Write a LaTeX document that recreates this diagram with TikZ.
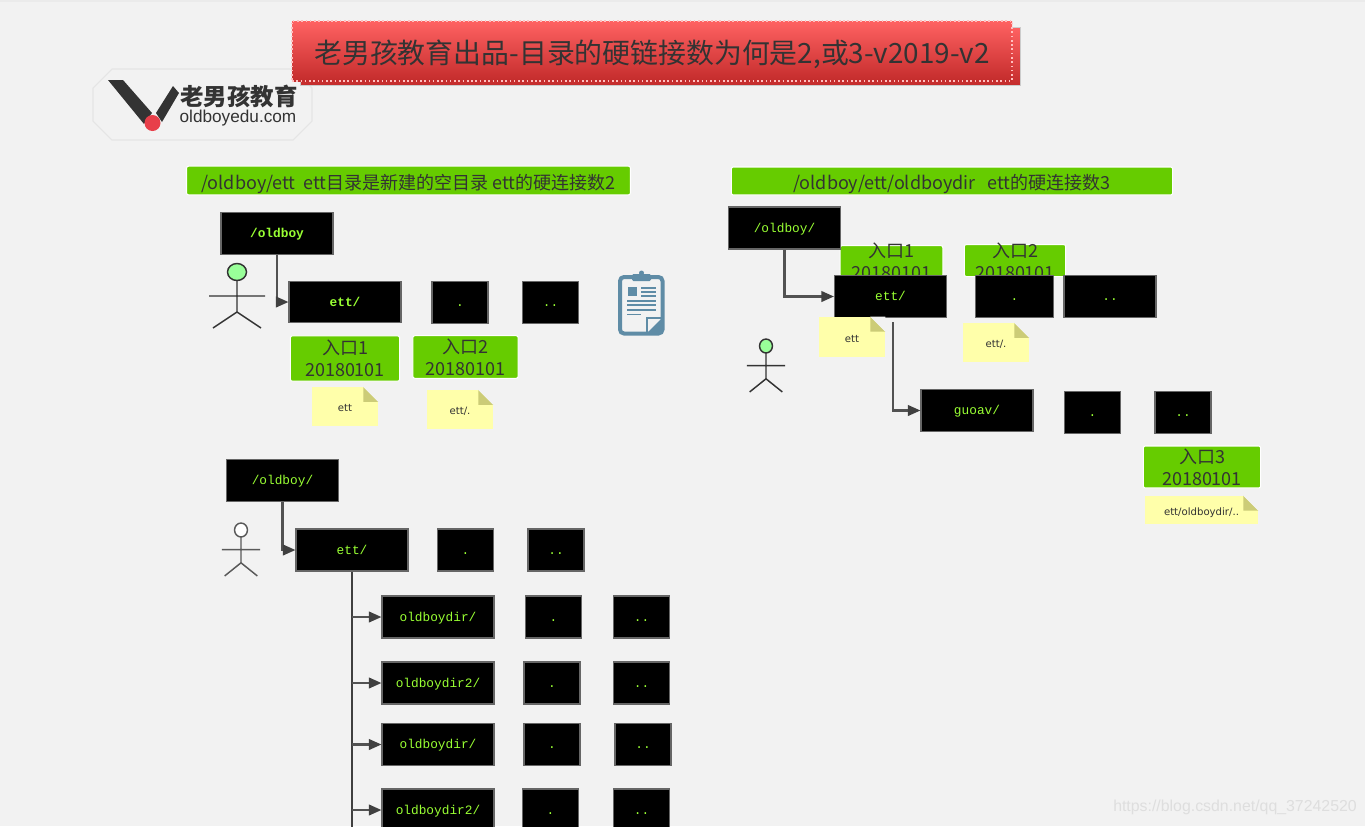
\documentclass[tikz,border=0pt]{standalone}
\usepackage{fontspec}
\setmainfont{Noto Sans CJK SC}
\setmonofont{Liberation Mono}
\newfontfamily\notefont{DejaVu Sans}
\newfontfamily\logofont{Liberation Sans}
\usetikzlibrary{arrows.meta,shadows,positioning}
\definecolor{pagebg}{HTML}{F2F2F2}
\definecolor{leafgreen}{HTML}{66CC00}
\definecolor{lime}{HTML}{99FF33}
\definecolor{inkgray}{HTML}{333333}
\definecolor{notefill}{HTML}{FFFFAA}
\definecolor{notefold}{HTML}{CCCC77}
\definecolor{clipblue}{HTML}{5F8CA6}
\definecolor{titletop}{HTML}{FF6262}
\definecolor{titlebot}{HTML}{C42C2C}
\definecolor{logored}{HTML}{E83F4A}
\tikzstyle{dirbox}=[rectangle,draw=black!60,fill=black,line width=0.8pt,inner sep=0pt,text=lime,text height=8pt,text depth=2pt,font=\ttfamily\fontsize{9.6}{11}\selectfont]
\tikzstyle{entrybox}=[rectangle,rounded corners=1.5pt,draw=white,fill=leafgreen,thick,inner sep=0pt,text=inkgray,align=center,font=\fontsize{13.5}{16.5}\selectfont]
\tikzstyle{headbox}=[rectangle,rounded corners=1.5pt,draw=white,fill=leafgreen,thick,inner sep=0pt,text=inkgray,text height=15pt,text depth=2pt,font=\fontsize{13.5}{16}\selectfont]
\tikzstyle{notebox}=[rectangle,fill=notefill,inner sep=0pt,text=inkgray,text height=8pt,text depth=0pt,font=\notefont\fontsize{7.6}{10}\selectfont]
\tikzstyle{link}=[draw=black!68,line width=1.6pt,-{Triangle[length=9.5pt,width=8pt,color=black!75]}]
\tikzstyle{figure}=[draw=black!80,line width=1.1pt]
\newcommand{\notefolded}[1]{%
  \fill[notefold] ([xshift=-15pt*0.75]#1.north east) -- ([yshift=-15pt*0.75]#1.north east) -- ([xshift=-15pt*0.75,yshift=-15pt*0.75]#1.north east) -- cycle;
  \fill[pagebg] ([xshift=-15pt*0.75]#1.north east) -- (#1.north east) -- ([yshift=-15pt*0.75]#1.north east) -- cycle;}
\newcommand{\stickman}[6]{% x, y, head fill, xscale, yscale, colour
  \begin{scope}[shift={(#1,#2)},xscale=#4,yscale=#5,figure,draw=#6]
    \draw[fill=#3] (0,0) ellipse (9.5 and 8.5);
    \draw (0,8.5) -- (0,40) (-28,24) -- (28,24) (-24,56) -- (0,40) -- (24,56);
  \end{scope}}
\begin{document}
\begin{tikzpicture}[x=0.75pt,y=-0.75pt,>=stealth]
    \useasboundingbox[fill=pagebg] (0,0) rectangle (1365,826);
    \fill[black!8] (0,0) rectangle (1365,1.5);

    % logo
    \draw[black!10,fill=pagebg,line width=0.8pt] (112,69) -- (293,69) -- (312,88) -- (312,121) -- (293,140) -- (112,140) -- (93,121) -- (93,88) -- cycle;
    \fill[inkgray] (108,80) -- (123,80) -- (152,113) -- (144,124) -- cycle;
    \fill[inkgray] (156,113) -- (173,86) -- (179,93) -- (162,122) -- cycle;
    \fill[logored] (152.5,123) circle (8);
    \node[inner sep=0pt,text=inkgray,font=\bfseries\fontsize{17.6}{18}\selectfont] (logocn) at (239,96) {老男孩教育};
    \node[inner sep=0pt,text=inkgray,font=\logofont\fontsize{12.9}{14}\selectfont] (logoen) at (238,118) {oldboyedu.com};

    % title
    \node[rectangle,top color=titletop,bottom color=titlebot,draw=black!20,minimum width=540pt,minimum height=43.5pt,inner sep=0pt] (titleback) at (660,56) {};
    \node[rectangle,top color=titletop,bottom color=titlebot,draw=white!75!red,dotted,line width=1.2pt,minimum width=540pt,minimum height=45pt,inner sep=0pt,text=inkgray,text height=21pt,text depth=2.3pt,font=\fontsize{20.9}{24}\selectfont] (title) at (652,51) {老男孩教育出品-目录的硬链接数为何是2,或3-v2019-v2};

    % headers
    \node[headbox,minimum width=333pt,minimum height=21.5pt] (headone) at (408.5,180.5) {/oldboy/ett\ \ ett目录是新建的空目录 ett的硬连接数2};
    \node[headbox,minimum width=331pt,minimum height=21pt] (headtwo) at (952,181) {/oldboy/ett/oldboydir\ \ \ ett的硬连接数3};

    % left upper
    \node[dirbox,minimum width=84pt,minimum height=31pt,font=\ttfamily\bfseries\fontsize{9.6}{11}\selectfont] (rootone) at (277,233.5) {/oldboy};
    \node[dirbox,minimum width=84pt,minimum height=31pt,font=\ttfamily\bfseries\fontsize{9.6}{11}\selectfont] (ettone) at (345,302) {ett/};
    \node[dirbox,minimum width=42pt,minimum height=31pt] (dotone) at (460,302.5) {.};
    \node[dirbox,minimum width=42pt,minimum height=31pt] (dotdotone) at (550.5,302.5) {..};
    \node[entrybox,minimum width=82pt,minimum height=34pt] (entryone) at (345,358.5) {入口1\\20180101};
    \node[entrybox,minimum width=79pt,minimum height=32pt] (entrytwo) at (465.5,357) {入口2\\20180101};
    \node[notebox,minimum width=49.5pt,minimum height=29pt] (noteone) at (345,406.5) {ett};
    \node[notebox,minimum width=49.5pt,minimum height=29pt] (notetwo) at (460,409.5) {ett/.};
    \notefolded{noteone}
    \notefolded{notetwo}
    \draw[link] (rootone.south) |- (ettone.west);
    \stickman{237}{272}{green!40!white}{1}{1}{black!80}

    % clipboard
    \draw[clipblue,line width=3pt,rounded corners=3pt] (620,277) rectangle (662.5,333.5);
    \fill[clipblue,rounded corners=1pt] (632,274) rectangle (651,281);
    \fill[clipblue] (641.5,273) circle (2.5);
    \fill[clipblue] (628,287) rectangle (637,296);
    \foreach \ty in {287,291,295} \fill[clipblue] (641,\ty) rectangle (656,\ty+1.8);
    \foreach \ty in {300,304,309} \fill[clipblue] (627,\ty) rectangle (656,\ty+1.8);
    \fill[clipblue] (627,313.5) rectangle (641,315.3);
    \draw[clipblue,line width=1pt] (647,333) -- (647,318) -- (661,318);
    \fill[clipblue] (647,333) -- (662,318) -- (662,333) -- cycle;

    % right side
    \node[entrybox,minimum width=77pt,minimum height=23.5pt,anchor=north] (entrythree) at (891.5,245) {};
    \node[entrybox,minimum width=76pt,minimum height=24pt,anchor=north] (entryfour) at (1015,244) {};
    \node[text=inkgray,inner sep=0pt,align=center,font=\fontsize{13.5}{16.5}\selectfont] (entrythreetext) at (891.5,261) {入口1\\20180101};
    \node[text=inkgray,inner sep=0pt,align=center,font=\fontsize{13.5}{16.5}\selectfont] (entryfourtext) at (1015,261) {入口2\\20180101};
    \node[dirbox,minimum width=84pt,minimum height=31.5pt] (roottwo) at (784.5,228) {/oldboy/};
    \node[dirbox,minimum width=84pt,minimum height=32pt] (etttwo) at (890.5,296.5) {ett/};
    \node[dirbox,minimum width=59pt,minimum height=32pt] (dottwo) at (1014.5,296.5) {.};
    \node[dirbox,minimum width=69pt,minimum height=32pt] (dotdottwo) at (1110,296.5) {..};
    \node[dirbox,minimum width=84pt,minimum height=32pt] (guoav) at (977,410.5) {guoav/};
    \node[dirbox,minimum width=42pt,minimum height=32pt] (dotthree) at (1092.5,412.5) {.};
    \node[dirbox,minimum width=42pt,minimum height=32pt] (dotdotthree) at (1183,412.5) {..};
    \node[entrybox,minimum width=88pt,minimum height=31.5pt] (entryfive) at (1202,467) {入口3\\20180101};
    \node[notebox,minimum width=49.5pt,minimum height=30pt] (notethree) at (852,337) {ett};
    \node[notebox,minimum width=49.5pt,minimum height=29pt] (notefour) at (996,342.5) {ett/.};
    \node[notebox,minimum width=85pt,minimum height=21pt] (notefive) at (1201.5,510) {ett/oldboydir/..};
    \notefolded{notethree}
    \notefolded{notefour}
    \notefolded{notefive}
    \draw[link] (roottwo.south) |- (etttwo.west);
    \draw[link,shorten <=3pt] ([xshift=1.9pt]etttwo.south) |- (guoav.west);
    \stickman{766}{346}{green!40!white}{0.68}{0.82}{black!80}

    % left lower
    \node[dirbox,minimum width=84pt,minimum height=31pt] (rootthree) at (282.5,480.5) {/oldboy/};
    \node[dirbox,minimum width=84pt,minimum height=31.5pt] (ettthree) at (352,550) {ett/};
    \node[dirbox,minimum width=42pt,minimum height=31.5pt] (dotfour) at (465.5,550) {.};
    \node[dirbox,minimum width=42pt,minimum height=31.5pt] (dotdotfour) at (556,550) {..};
    \draw[link] (rootthree.south) |- (ettthree.west);
    \stickman{241}{530}{white}{0.68}{0.82}{black!65}

    \coordinate (trunkend) at (352,830);
    \draw[black!75,line width=2pt] (ettthree.south) -- (trunkend);

    \foreach \rowname/\rowtext/\ry/\dx/\ddx in {rowa/{oldboydir/}/617/553.5/641.5,
                                                rowb/{oldboydir2/}/683/552/641.5,
                                                rowc/{oldboydir/}/744.5/552/643,
                                                rowd/{oldboydir2/}/810/550.5/641.5}{
      \node[dirbox,minimum width=84pt,minimum height=31.5pt] (\rowname) at (438,\ry) {\rowtext};
      \node[dirbox,minimum width=42pt,minimum height=31.5pt] (\rowname dot) at (\dx,\ry) {.};
      \node[dirbox,minimum width=42pt,minimum height=31.5pt] (\rowname dotdot) at (\ddx,\ry) {..};
      \draw[link] (ettthree.south |- \rowname.west) -- (\rowname.west);
    }

    % watermark
    \node[inner sep=0pt,text=black!13,font=\logofont\fontsize{11.9}{13}\selectfont] (watermark) at (1235,807) {https://blog.csdn.net/qq\_37242520};
\end{tikzpicture}
\end{document}
